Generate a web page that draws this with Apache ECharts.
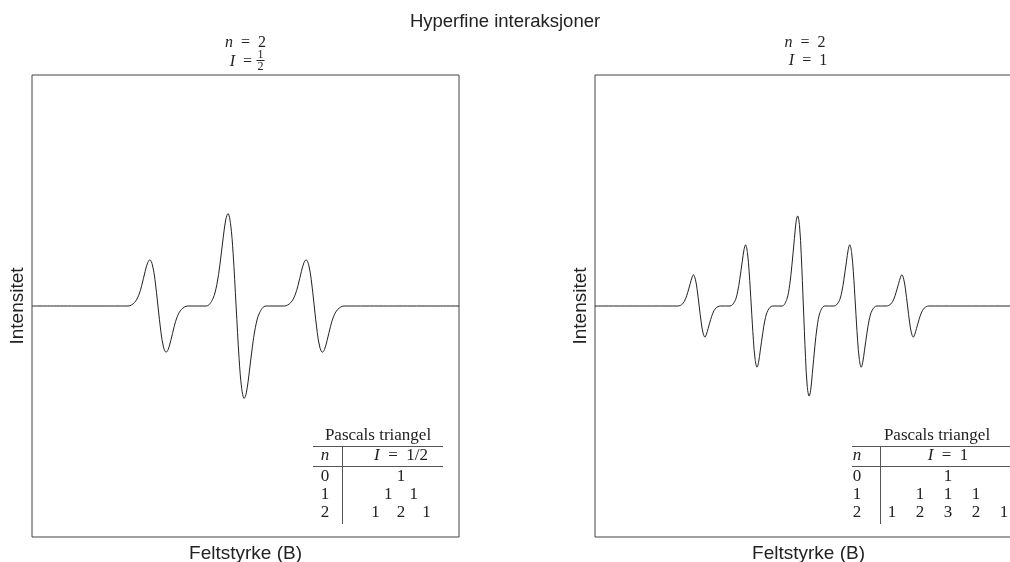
<!DOCTYPE html>
<html>
<head>
<meta charset="utf-8">
<script src="https://cdn.jsdelivr.net/npm/echarts/dist/echarts.min.js"></script>
<style>
html,body{margin:0;padding:0;background:#fff;}
#chart{width:1010px;height:562px;}
</style>
</head>
<body>
<div id="chart"></div>
<script>
// ---- text ----
const mainTitle = 'Hyperfine interaksjoner';
const xAxisName = 'Feltstyrke (B)';
const yAxisName = 'Intensitet';
const tableCaption = 'Pascals triangel';

// ---- left panel: n = 2, I = 1/2 (three lines, 1:2:1) ----
const leftField = [0,
  22.5, 24.0, 25.0, 25.7, 26.5, 27.1, 27.6, 28.2, 28.8, 29.5, 30.2, 30.8, 31.4, 31.9, 32.5, 33.3, 34.0, 35.0, 36.5,
  40.8, 42.3, 43.3, 44.0, 44.8, 45.4, 45.9, 46.5, 47.1, 47.8, 48.5, 49.1, 49.7, 50.2, 50.8, 51.6, 52.3, 53.3, 54.8,
  59.1, 60.6, 61.6, 62.3, 63.1, 63.7, 64.2, 64.8, 65.4, 66.1, 66.8, 67.4, 68.0, 68.5, 69.1, 69.9, 70.6, 71.6, 73.1,
  100];
const leftIntensity = [0,
  0, 0.015, 0.047, 0.089, 0.150, 0.188, 0.200, 0.178, 0.114, 0, -0.114, -0.178, -0.200, -0.188, -0.150, -0.089, -0.047, -0.015, 0,
  0, 0.029, 0.094, 0.178, 0.299, 0.376, 0.400, 0.356, 0.228, 0, -0.228, -0.356, -0.400, -0.376, -0.299, -0.178, -0.094, -0.029, 0,
  0, 0.015, 0.047, 0.089, 0.150, 0.188, 0.200, 0.178, 0.114, 0, -0.114, -0.178, -0.200, -0.188, -0.150, -0.089, -0.047, -0.015, 0,
  0];

// ---- right panel: n = 2, I = 1 (five lines, 1:2:3:2:1) ----
const rightField = [0,
  19.4, 20.5, 21.2, 21.7, 22.3, 22.7, 23.05, 23.5, 23.9, 24.4, 24.9, 25.3, 25.75, 26.1, 26.5, 27.1, 27.6, 28.3, 29.4,
  31.6, 32.7, 33.4, 33.9, 34.5, 34.9, 35.25, 35.7, 36.1, 36.6, 37.1, 37.5, 37.95, 38.3, 38.7, 39.3, 39.8, 40.5, 41.6,
  43.8, 44.9, 45.6, 46.1, 46.7, 47.1, 47.45, 47.9, 48.3, 48.8, 49.3, 49.7, 50.15, 50.5, 50.9, 51.5, 52.0, 52.7, 53.8,
  56.0, 57.1, 57.8, 58.3, 58.9, 59.3, 59.65, 60.1, 60.5, 61.0, 61.5, 61.9, 62.35, 62.7, 63.1, 63.7, 64.2, 64.9, 66.0,
  68.2, 69.3, 70.0, 70.5, 71.1, 71.5, 71.85, 72.3, 72.7, 73.2, 73.7, 74.1, 74.55, 74.9, 75.3, 75.9, 76.4, 77.1, 78.2,
  100];
const rightIntensity = [0,
  0, 0.009, 0.031, 0.058, 0.097, 0.122, 0.135, 0.116, 0.074, 0, -0.074, -0.116, -0.135, -0.122, -0.097, -0.058, -0.031, -0.009, 0,
  0, 0.019, 0.061, 0.116, 0.194, 0.244, 0.265, 0.231, 0.148, 0, -0.148, -0.231, -0.265, -0.244, -0.194, -0.116, -0.061, -0.019, 0,
  0, 0.028, 0.092, 0.174, 0.292, 0.366, 0.390, 0.347, 0.222, 0, -0.222, -0.347, -0.390, -0.366, -0.292, -0.174, -0.092, -0.028, 0,
  0, 0.019, 0.061, 0.116, 0.194, 0.244, 0.265, 0.231, 0.148, 0, -0.148, -0.231, -0.265, -0.244, -0.194, -0.116, -0.061, -0.019, 0,
  0, 0.009, 0.031, 0.058, 0.097, 0.122, 0.135, 0.116, 0.074, 0, -0.074, -0.116, -0.135, -0.122, -0.097, -0.058, -0.031, -0.009, 0,
  0];

// ---- Pascal's triangle tables ----
const pascalRowsN = ['0', '1', '2'];
const pascalHalf = [[1], [1, 1], [1, 2, 1]];
const pascalOne = [[1], [1, 1, 1], [1, 2, 3, 2, 1]];
const SP = '\u2002';
const headerHalf = '{i|I}' + SP + '=' + SP + '1/2';
const headerOne = '{i|I}' + SP + '=' + SP + '1';
const subN = '{i|n}' + SP + '=' + SP + '2';
const subILeft = '{i|I}' + SP + '=';
const subIFrac = ['1', '2'];
const subIRight = '{i|I}' + SP + '=' + SP + '1';

// ---- layout ----
const GRID_TOP = 75, GRID_H = 462, GRID_W = 427;
const LEFT_X = 32, RIGHT_X = 595;
const SERIF = '"Liberation Serif", "DejaVu Serif", serif';
const SANS = '"Liberation Sans", Arial, sans-serif';
const INK = '#222';
const RULE = '#555';

const zip = (xs, ys) => xs.map((x, i) => [x, ys[i]]);

function axisPair(idx) {
  return {
    x: {
      type: 'value', gridIndex: idx, min: 0, max: 100,
      name: xAxisName, nameLocation: 'middle', nameGap: 7,
      nameTextStyle: { fontFamily: SANS, fontSize: 19, color: INK },
      axisLine: { show: false }, axisTick: { show: false },
      axisLabel: { show: false }, splitLine: { show: false }
    },
    y: {
      type: 'value', gridIndex: idx, min: -1, max: 1,
      name: yAxisName, nameLocation: 'middle', nameGap: 5,
      nameTextStyle: { fontFamily: SANS, fontSize: 19, color: INK },
      axisLine: { show: false }, axisTick: { show: false },
      axisLabel: { show: false }, splitLine: { show: false }
    }
  };
}

function textEl(x, y, text, size, align) {
  return {
    type: 'text', x: x, y: y, silent: true,
    style: {
      text: text, fill: INK,
      font: size + 'px ' + SERIF,
      align: align || 'center', verticalAlign: 'middle',
      rich: {
        i: { fontStyle: 'italic', fontSize: size, fontFamily: SERIF, fill: INK }
      }
    }
  };
}
function ruleEl(x1, y1, x2, y2, color) {
  return {
    type: 'line', silent: true,
    shape: { x1: x1, y1: y1, x2: x2, y2: y2 },
    style: { stroke: color || RULE, lineWidth: 1 }
  };
}

function buildTable(cfg) {
  const els = [];
  els.push(textEl(cfg.capX, 436, tableCaption, 17));
  els.push(ruleEl(cfg.x1, 446.5, cfg.x2, 446.5));
  els.push(ruleEl(cfg.x1, 466.5, cfg.x2, 466.5));
  els.push(ruleEl(cfg.vx + 0.5, 446.5, cfg.vx + 0.5, 524));
  els.push(textEl(cfg.nX, 456, '{i|n}', 17));
  els.push(textEl(cfg.cX, 456, cfg.header, 17));
  const rowY = [477, 495, 513];
  cfg.rows.forEach((row, r) => {
    els.push(textEl(cfg.nX, rowY[r], pascalRowsN[r], 17));
    row.forEach((v, k) => {
      const x = cfg.cX + (k - (row.length - 1) / 2) * cfg.spacing;
      els.push(textEl(x, rowY[r], String(v), 17));
    });
  });
  return els;
}

const leftAxes = axisPair(0), rightAxes = axisPair(1);

const graphics = []
  .concat([
    textEl(LEFT_X + 213.5, 43, subN, 16),
    textEl(252, 62, subILeft, 16, 'right'),
    textEl(260.5, 55, subIFrac[0], 12),
    ruleEl(256.5, 60.5, 264.5, 60.5, INK),
    textEl(260.5, 66.5, subIFrac[1], 12),
    textEl(805, 43, subN, 16),
    textEl(808, 61, subIRight, 16)
  ])
  .concat(buildTable({ capX: 378, x1: 313, x2: 443, vx: 342, nX: 325, cX: 401, spacing: 25.5, header: headerHalf, rows: pascalHalf }))
  .concat(buildTable({ capX: 937, x1: 852, x2: 1030, vx: 880, nX: 857, cX: 948, spacing: 28, header: headerOne, rows: pascalOne }));

const chart = echarts.init(document.getElementById('chart'), null, { renderer: 'canvas' });
chart.setOption({
  animation: false,
  backgroundColor: '#fff',
  title: {
    text: mainTitle, left: 'center', top: 7,
    textStyle: { fontFamily: SANS, fontSize: 18.5, fontWeight: 'normal', color: INK }
  },
  grid: [
    { left: LEFT_X, top: GRID_TOP, width: GRID_W, height: GRID_H, show: true, borderColor: '#444', borderWidth: 1, backgroundColor: 'transparent', outerBoundsMode: 'none', containLabel: false },
    { left: RIGHT_X, top: GRID_TOP, width: GRID_W, height: GRID_H, show: true, borderColor: '#444', borderWidth: 1, backgroundColor: 'transparent', outerBoundsMode: 'none', containLabel: false }
  ],
  xAxis: [leftAxes.x, rightAxes.x],
  yAxis: [leftAxes.y, rightAxes.y],
  series: [
    {
      type: 'line', xAxisIndex: 0, yAxisIndex: 0,
      data: zip(leftField, leftIntensity),
      showSymbol: false, smooth: 0.35, silent: true, clip: true,
      lineStyle: { color: INK, width: 1 }
    },
    {
      type: 'line', xAxisIndex: 1, yAxisIndex: 1,
      data: zip(rightField, rightIntensity),
      showSymbol: false, smooth: 0.35, silent: true, clip: true,
      lineStyle: { color: INK, width: 1 }
    }
  ],
  graphic: graphics
});
</script>
</body>
</html>
